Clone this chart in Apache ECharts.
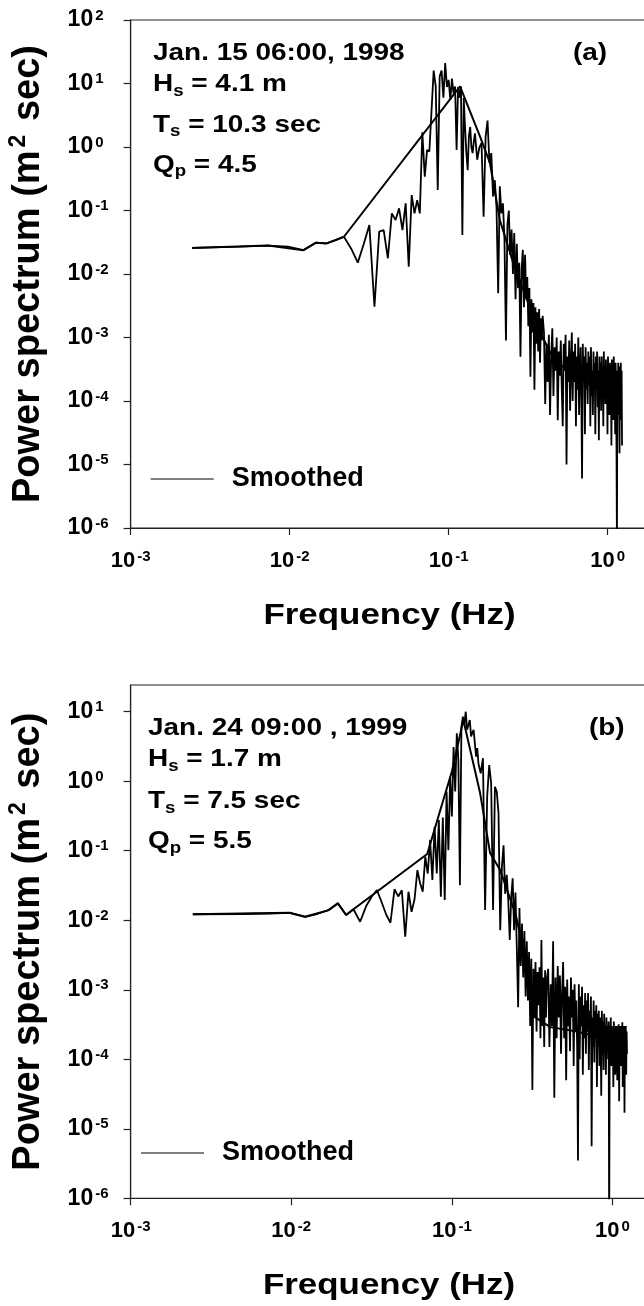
<!DOCTYPE html>
<html>
<head>
<meta charset="utf-8">
<script src="https://cdn.jsdelivr.net/npm/echarts@6.0.0/dist/echarts.min.js"></script>
<style>
html,body{margin:0;padding:0;background:#fff;}
#chart{width:644px;height:1306px;}
</style>
</head>
<body>
<div id="chart"></div>
<script>
// ---------- DATA ----------
// FFT frequency bins (Hz), shared by both raw spectra
const freq = [
0.00244,0.00488,0.00732,0.00977,0.01221,0.01465,0.01709,0.01953,0.02197,0.02441,
0.02686,0.0293,0.03174,0.03418,0.03662,0.03906,0.0415,0.04395,0.04639,0.04883,
0.05127,0.05371,0.05615,0.05859,0.06104,0.06348,0.06592,0.06836,0.0708,0.07324,
0.07568,0.07813,0.08057,0.08301,0.08545,0.08789,0.09033,0.09277,0.09521,0.09766,
0.1001,0.10254,0.10498,0.10742,0.10986,0.1123,0.11475,0.11719,0.11963,0.12207,
0.12451,0.12695,0.12939,0.13184,0.13428,0.13672,0.13916,0.1416,0.14404,0.14648,
0.15137,0.15625,0.16113,0.16602,0.1709,0.17578,0.18066,0.18555,0.19043,0.19531,
0.2002,0.20508,0.20996,0.21484,0.21973,0.22461,0.22949,0.23438,0.23926,0.24414,
0.24902,0.25391,0.25879,0.26367,0.26855,0.27344,0.27832,0.2832,0.28809,0.29297,
0.29785,0.30273,0.30762,0.3125,0.31738,0.32227,0.32715,0.33203,0.33691,0.3418,
0.34668,0.35156,0.35645,0.36133,0.36621,0.37109,0.37598,0.38086,0.38574,0.39063,
0.39795,0.40527,0.4126,0.41992,0.42725,0.43457,0.44189,0.44922,0.45654,0.46387,
0.47119,0.47852,0.48584,0.49316,0.50049,0.50781,0.51514,0.52246,0.52979,0.53711,
0.54443,0.55176,0.55908,0.56641,0.57373,0.58105,0.58838,0.5957,0.60303,0.61035,
0.61768,0.625,0.63232,0.63965,0.64697,0.6543,0.66162,0.66895,0.67627,0.68359,
0.69092,0.69824,0.70557,0.71289,0.72021,0.72754,0.73486,0.74219,0.74951,0.75684,
0.76416,0.77148,0.77881,0.78613,0.79346,0.80078,0.80811,0.81543,0.82275,0.83008,
0.8374,0.84473,0.85205,0.85938,0.8667,0.87402,0.88135,0.88867,0.896,0.90332,
0.91064,0.91797,0.92529,0.93262,0.93994,0.94727,0.95459,0.96191,0.96924,0.97656,
0.98389,0.99121,0.99854,1.00586,1.01318,1.02051,1.02783,1.03516,1.04248,1.0498,
1.05713,1.06445,1.07178,1.0791,1.08643,1.09375,1.10107,1.1084,1.11572,1.12305,
1.13037,1.1377,1.14502,1.15234,1.15967,1.16699,1.17432,1.18164,1.18896,1.19629,
1.20361,1.21094,1.21826,1.22559,1.23291
];

// (a) Jan. 15 06:00, 1998 — raw power spectrum (m^2 sec)
const specA = [
0.0257,0.027,0.028,0.027,0.0237,0.0311,0.0303,0.0343,0.0386,0.025,
0.0151,0.03,0.059,0.00305,0.0465,0.049,0.0177,0.09,0.071,0.108,
0.049,0.13,0.013,0.175,0.09,0.146,0.09,1.7,0.34,0.9,
0.85,3.8,16,9,0.21,13,16,6,21,8.8,
11.4,5.5,12,7,9,0.9,8.8,6,9,0.041,
5.9,2.0,0.8,0.43,1.5,2.07,1.0,0.8,1.2,1.64,
0.63,0.99,1.16,0.08,1.44,2.6,0.56,0.8,0.166,0.3,
0.11,0.005,0.24,0.09,0.13,0.035,0.0009,0.06,0.1,0.02,
0.05,0.01,0.044,0.004,0.03,0.006,0.015,0.0005,0.012,0.024,
0.003,0.02,0.004,0.009,0.0015,0.006,0.00024,0.004,0.0012,0.0035,
0.00015,0.003,0.0008,0.0025,0.0006,0.0028,0.0004,0.002,0.0009,0.0022,
1.2e-3,9e-5,8e-4,2e-4,1.1e-3,6e-5,5e-4,1.4e-3,1.2e-4,7e-4,
3e-4,1.0e-3,5e-5,6e-4,2.5e-4,9e-4,1.5e-4,4e-5,8e-4,3e-4,
1.1e-3,1e-5,5e-4,2e-4,9e-4,7e-5,4e-4,1.2e-3,1e-4,6e-4,
2e-4,8e-4,4e-5,5e-4,1.5e-4,1.0e-3,6e-5,3e-4,7e-4,1.2e-4,
6e-6,8e-4,2e-4,5e-4,3e-5,7e-4,1.5e-4,4e-4,9e-5,6e-4,
2e-4,5e-4,4e-5,7e-4,1.2e-4,3e-4,6e-5,6e-4,2e-4,4e-4,
3e-5,5e-4,1.5e-4,6e-4,8e-5,3e-4,2.4e-5,5e-4,1.8e-4,4e-4,
7e-5,5e-4,2e-4,3e-4,4e-5,6e-4,1.2e-4,3e-4,9e-5,4.5e-4,
1.5e-4,3e-4,3e-5,5e-4,1e-4,2.5e-4,6e-5,4e-4,1.5e-4,3e-4,
2e-5,4.5e-4,1.2e-4,3e-4,5e-5,5e-4,2e-4,2.5e-4,3e-5,4e-4,
1.5e-4,2e-5,5e-7,3e-4,1e-4,4e-4,6e-5,2.5e-4,1.5e-5,3.5e-4,
1e-4,4e-4,5e-5,3e-4,2e-5
];

// (b) Jan. 24 09:00, 1999 — raw power spectrum (m^2 sec)
const specB = [
0.0122,0.0123,0.0125,0.0128,0.0112,0.0124,0.014,0.0175,0.0119,0.0144,
0.0095,0.016,0.022,0.0272,0.018,0.012,0.0092,0.0279,0.022,0.027,
0.0058,0.0257,0.0132,0.02,0.0527,0.034,0.0257,0.082,0.047,0.143,
0.038,0.221,0.047,0.277,0.0218,0.3,0.0195,0.71,0.102,1.16,
0.31,3.1,0.71,4.9,2.0,0.032,6.1,8.5,6.5,10,
5.5,6.5,7.6,4.4,5.0,5.5,3.5,2.25,3.0,1.8,
1.3,2.14,0.014,0.6,1.71,0.93,0.014,0.83,0.71,0.35,
0.0072,0.059,0.12,0.024,0.045,0.0195,0.0052,0.0218,0.04,0.0072,
0.025,0.004,0.00056,0.015,0.0022,0.009,0.0015,0.007,0.0008,0.005,
0.0007,0.0035,0.0003,0.0028,0.000036,0.002,0.0004,0.0025,0.00025,0.0018,
0.0006,0.0021,0.0002,0.0052,0.0003,0.0015,0.00015,0.0019,0.0004,0.0014,
2e-3,1.5e-4,1.2e-3,3e-4,5e-3,2.8e-5,1.5e-3,2e-4,2.2e-3,4e-4,
1.6e-3,1.2e-4,9e-4,2.5e-3,2e-4,1.1e-3,5e-5,1.4e-3,3e-4,8e-4,
1.3e-4,1.5e-3,4e-4,1e-3,8e-5,1.2e-3,2.5e-4,7e-4,1.5e-4,3.5e-6,
1.2e-3,1e-4,8e-4,3e-4,1.1e-3,6e-5,6e-4,2e-4,9e-4,1.2e-4,
7e-4,2.5e-4,9e-4,7e-5,5e-4,2e-4,8e-4,5.6e-6,4e-4,1.5e-4,
7e-4,9e-5,5e-4,2e-4,6e-4,4e-5,4.5e-4,1.5e-4,5e-4,8e-5,
4e-4,2e-4,3e-5,5e-4,1.2e-4,3.5e-4,7e-5,4.5e-4,1.8e-4,3e-4,
6e-5,4e-4,1.5e-4,3e-4,1e-4,3.5e-4,3e-7,3e-4,1.2e-4,4e-4,
8e-5,3e-4,1.5e-4,2.5e-4,4e-5,3.5e-4,1.2e-4,2.5e-4,6e-5,3e-4,
1.5e-4,3e-4,5e-5,2.5e-4,1.2e-4,3.2e-4,2.5e-5,2.2e-4,1.4e-4,3e-4,
8e-5,2.8e-4,1.5e-4,3.4e-4,4e-5,2.5e-4,1.2e-4,3e-4,1.7e-5,2.4e-4,
1.2e-4,3e-4,6e-5,2.5e-4,1.2e-4
];

// Smoothed spectra
const smoothFreqA = [0.00244,0.00732,0.01221,0.01465,0.01709,0.01953,0.02197,0.118,0.158,0.182,0.21,0.254,0.30,0.36,0.45,0.6,0.9,1.23];
const smoothA     = [0.0257,0.028,0.0237,0.0311,0.0303,0.0343,0.0386,9,1.44,0.56,0.071,0.0155,0.005,0.0015,0.0005,0.00025,0.00015,0.00012];
const smoothFreqB = [0.00244,0.00977,0.01221,0.01709,0.01953,0.02197,0.02441,0.0703,0.0848,0.1,0.118,0.15,0.173,0.2,0.25,0.29,0.307,0.326,0.41,0.6,0.9,1.23];
const smoothB     = [0.0122,0.0128,0.0112,0.014,0.0175,0.0119,0.0144,0.0897,0.385,1.37,7.6,0.676,0.093,0.0527,0.012,0.0025,0.00089,0.00041,0.00029,0.00025,0.0002,0.00018];

// Tick values
const xTickValues  = [0.001, 0.01, 0.1, 1];
const yTickValuesA = [1e-6, 1e-5, 1e-4, 1e-3, 1e-2, 1e-1, 1, 10, 100];
const yTickValuesB = [1e-6, 1e-5, 1e-4, 1e-3, 1e-2, 1e-1, 1, 10];

// Texts
const infoA = ['Jan. 15 06:00, 1998', ['H','s',' = 4.1 m'], ['T','s',' = 10.3 sec'], ['Q','p',' = 4.5']];
const infoB = ['Jan. 24 09:00 , 1999', ['H','s',' = 1.7 m'], ['T','s',' = 7.5 sec'], ['Q','p',' = 5.5']];
const panelTags = ['(a)', '(b)'];
const xTitle = 'Frequency (Hz)';
const yTitle = 'Power spectrum (m{sup|2} sec)';
const legendName = 'Smoothed';

// ---------- CHART ----------
const FONT = '"Liberation Sans", Arial, Helvetica, sans-serif';
const chart = echarts.init(document.getElementById('chart'), null, {renderer: 'canvas'});

function powLabel(v) {
  const lg = Math.log10(v);
  const e = Math.round(lg);
  if (Math.abs(lg - e) > 1e-6) return '';
  return '{b|10}{s|' + e + '}';
}
function richFor(size, supSize) {
  return {
    b: {fontFamily: FONT, fontSize: size, fontWeight: 'bold', color: '#000', lineHeight: 24},
    s: {fontFamily: FONT, fontSize: supSize, fontWeight: 'bold', color: '#000', lineHeight: 14, verticalAlign: 'top', padding: [0, 0, 0, 2]}
  };
}
function makeX(gi, max) {
  return {
    type: 'log', logBase: 10, gridIndex: gi, min: 0.001, max: max,
    axisLine: {show: true, lineStyle: {color: '#222', width: 1.2}},
    axisTick: {show: true, inside: false, length: 7, customValues: xTickValues, lineStyle: {color: '#222', width: 1.2}},
    axisLabel: {customValues: xTickValues, formatter: powLabel, margin: 21, rich: richFor(22, 15), hideOverlap: false},
    splitLine: {show: false}, minorTick: {show: false}
  };
}
function makeY(gi, max, ticks) {
  return {
    type: 'log', logBase: 10, gridIndex: gi, min: 1e-6, max: max,
    axisLine: {show: true, lineStyle: {color: '#222', width: 1.2}},
    axisTick: {show: true, inside: false, length: 7, customValues: ticks, lineStyle: {color: '#222', width: 1.2}},
    axisLabel: {customValues: ticks, formatter: powLabel, margin: 63, align: 'left', rich: richFor(23, 15), hideOverlap: false},
    splitLine: {show: false}, minorTick: {show: false},
    name: yTitle, nameLocation: 'middle', nameGap: 81,
    nameTextStyle: {
      fontFamily: FONT, fontSize: 38, fontWeight: 'bold', color: '#000', lineHeight: 42,
      rich: {sup: {fontFamily: FONT, fontSize: 23, fontWeight: 'bold', color: '#000', lineHeight: 22, verticalAlign: 'top', padding: [0, 3, 0, 3]}}
    }
  };
}
function pairs(xs, ys) { return xs.map((x, i) => [x, ys[i]]); }

const SX = 1.164;
const annRich = {
  t: {font: 'bold 24px ' + FONT, lineHeight: 30, fill: '#000'},
  sub: {font: 'bold 16px ' + FONT, lineHeight: 8, verticalAlign: 'bottom', fill: '#000'}
};
function annText(x, y, content) {
  const txt = Array.isArray(content)
    ? '{t|' + content[0] + '}{sub|' + content[1] + '}{t|' + content[2] + '}'
    : '{t|' + content + '}';
  return {
    type: 'text', x: x, y: y, scaleX: SX, silent: true,
    style: {text: txt, rich: annRich, font: 'bold 24px ' + FONT, fill: '#000', align: 'left', verticalAlign: 'middle', lineHeight: 30}
  };
}
function titleText(x, y, text) {
  return {
    type: 'text', x: x, y: y, scaleX: SX, silent: true,
    style: {text: text, font: 'bold 30px ' + FONT, fill: '#000', align: 'center', verticalAlign: 'middle'}
  };
}
function makeLegend(left, top) {
  return {
    data: [legendName], left: left, top: top, padding: 0, selectedMode: false,
    icon: 'rect', itemWidth: 63, itemHeight: 1.6,
    itemStyle: {color: '#555', borderWidth: 0},
    textStyle: {fontFamily: FONT, fontSize: 27, fontWeight: 'bold', color: '#000', lineHeight: 30, padding: [0, 0, 0, 13]}
  };
}

const graphics = [];
const annYA = [53, 84.5, 125, 165];
const annYB = [728.3, 759.6, 801.6, 841.6];
infoA.forEach((c, i) => graphics.push(annText(153, annYA[i], c)));
infoB.forEach((c, i) => graphics.push(annText(148, annYB[i], c)));
graphics.push(annText(573, 53, panelTags[0]));
graphics.push(annText(589, 728, panelTags[1]));
graphics.push(titleText(389.5, 616, xTitle));
graphics.push(titleText(389, 1286, xTitle));

// Grid right edges lie just past the canvas (the original figure is cropped there);
// x-axis max chosen so one decade spans ~159 px (a) / ~160.5 px (b).
const option = {
  backgroundColor: '#fff',
  animation: false,
  grid: [
    {left: 130.6, top: 20, width: 530, height: 508, show: true, borderColor: '#222', borderWidth: 1.2,
     backgroundColor: 'transparent', outerBoundsMode: 'none', containLabel: false},
    {left: 130.6, top: 685, width: 530, height: 513.3, show: true, borderColor: '#222', borderWidth: 1.2,
     backgroundColor: 'transparent', outerBoundsMode: 'none', containLabel: false}
  ],
  xAxis: [makeX(0, 2.155), makeX(1, 1.995)],
  yAxis: [makeY(0, 100, yTickValuesA), makeY(1, 24.22, yTickValuesB)],
  legend: [makeLegend(150.7, 464), makeLegend(141, 1138)],
  series: [
    {type: 'line', name: 'Spectrum (a)', xAxisIndex: 0, yAxisIndex: 0, data: pairs(freq, specA),
     showSymbol: false, symbol: 'none', lineStyle: {color: '#000', width: 1.8}, itemStyle: {color: '#000'}, silent: true, z: 2},
    {type: 'line', name: legendName, xAxisIndex: 0, yAxisIndex: 0, data: pairs(smoothFreqA, smoothA),
     showSymbol: false, symbol: 'none', lineStyle: {color: '#000', width: 2}, itemStyle: {color: '#000'}, silent: true, z: 3},
    {type: 'line', name: 'Spectrum (b)', xAxisIndex: 1, yAxisIndex: 1, data: pairs(freq, specB),
     showSymbol: false, symbol: 'none', lineStyle: {color: '#000', width: 1.8}, itemStyle: {color: '#000'}, silent: true, z: 2},
    {type: 'line', name: legendName, xAxisIndex: 1, yAxisIndex: 1, data: pairs(smoothFreqB, smoothB),
     showSymbol: false, symbol: 'none', lineStyle: {color: '#000', width: 2}, itemStyle: {color: '#000'}, silent: true, z: 3}
  ],
  graphic: graphics
};
chart.setOption(option);
</script>
</body>
</html>
